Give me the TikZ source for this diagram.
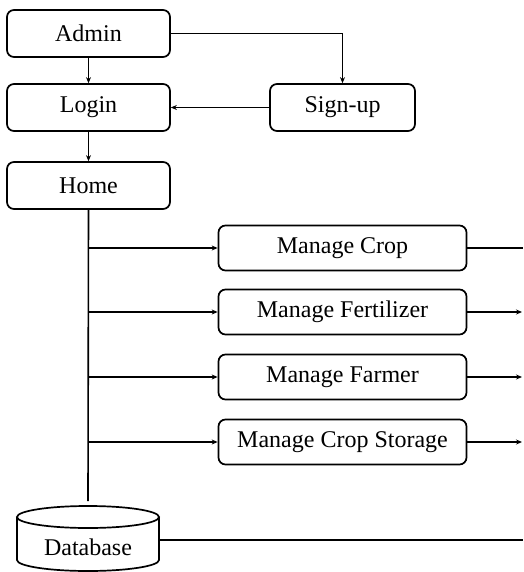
\documentclass[tikz,border=0pt]{standalone}
\usepackage{fontspec}
\setmainfont{Liberation Serif}
\usetikzlibrary{arrows.meta}
\begin{document}
\begin{tikzpicture}[x=1pt,y=1pt,
  box/.style={draw,line width=1.7pt,rounded corners=7pt,inner sep=0pt,font=\fontsize{24}{26}\selectfont},
  topbox/.style={box,minimum width=163pt,minimum height=47pt},
  mbox/.style={box,minimum width=248pt,minimum height=45pt},
  arr/.style={line width=1.6pt,-{Stealth[length=6pt,width=5pt]}},
  ln/.style={line width=1.6pt}]
\useasboundingbox (0,0) rectangle (523,-572);
\node[topbox] (admin) at (88.5,-33.5) {Admin};
\node[topbox] (login) at (88.5,-107.5) {Login};
\node[topbox] (home) at (88.5,-185.5) {Home};
\node[box,minimum width=145pt,minimum height=47pt] (signup) at (342.5,-107.5) {Sign-up};
\node[mbox] (mc) at (342.5,-248) {Manage Crop};
\node[mbox] (mf) at (342.5,-312) {Manage Fertilizer};
\node[mbox] (mfa) at (342.5,-377) {Manage Farmer};
\node[mbox] (ms) at (342.5,-442) {Manage Crop Storage};
% database cylinder
\node[minimum width=142pt,minimum height=55pt,inner sep=0pt] (db) at (88,-544) {};
\node[font=\fontsize{24}{26}\selectfont] (dbt) at (88,-547) {Database};
\draw[line width=1.7pt] (17,-517) -- (17,-560) arc[start angle=180,end angle=360,x radius=71,y radius=11] -- (159,-517);
\draw[line width=1.7pt] (88,-517) ellipse [x radius=71,y radius=11];
\coordinate (dbtop) at (88,-501);
\coordinate (dbr) at (159,-540);
% connectors
\draw[arr,line width=1pt] (admin) -- (login);
\draw[arr] (admin.east) -| (signup.north);
\draw[arr] (signup) -- (login);
\draw[arr] (login) -- (home);
\draw[ln] (home.south) -- (dbtop);
\draw[arr] (home.south |- mc.west) -- (mc.west);
\draw[arr] (home.south |- mf.west) -- (mf.west);
\draw[arr] (home.south |- mfa.west) -- (mfa.west);
\draw[arr] (home.south |- ms.west) -- (ms.west);
\coordinate (e1) at (523,-248);
\coordinate (e2) at (522,-312);
\coordinate (e3) at (522,-377);
\coordinate (e4) at (522,-442);
\coordinate (e5) at (523,-540);
\draw[ln] (mc.east) -- (e1);
\draw[arr] (mf.east) -- (e2);
\draw[arr] (mfa.east) -- (e3);
\draw[arr] (ms.east) -- (e4);
\draw[ln] (dbr) -- (e5);
\end{tikzpicture}
\end{document}
